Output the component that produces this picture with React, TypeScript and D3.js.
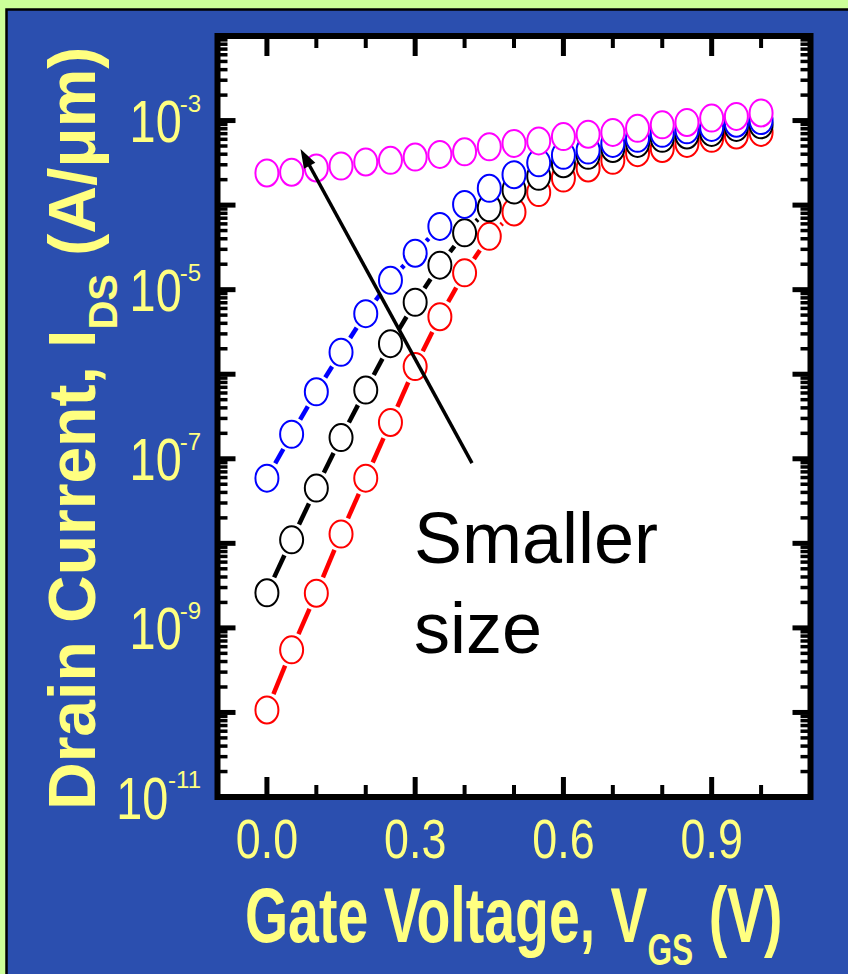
import React from "react";
import * as d3 from "d3";

// ---- data ----
const vgs = [0, 0.05, 0.1, 0.15, 0.2, 0.25, 0.3, 0.35, 0.4, 0.45, 0.5, 0.55, 0.6, 0.65, 0.7, 0.75, 0.8, 0.85, 0.9, 0.95, 1.0];

const idsRed = [1.07e-10, 5.5e-10, 2.57e-9, 1.29e-8, 5.9e-8, 2.69e-7, 1.23e-6, 4.79e-6, 1.58e-5, 4.27e-5, 8.3e-5, 1.41e-4, 2.09e-4, 2.75e-4, 3.39e-4, 4.17e-4, 4.68e-4, 5.37e-4, 6.17e-4, 6.76e-4, 7.24e-4];
const idsBlack = [2.6e-9, 1.1e-8, 4.5e-8, 1.78e-7, 6.5e-7, 2.3e-6, 7.1e-6, 1.95e-5, 4.7e-5, 9.3e-5, 1.51e-4, 2.19e-4, 3.09e-4, 3.89e-4, 4.68e-4, 5.37e-4, 6.17e-4, 6.76e-4, 7.24e-4, 8.3e-4, 8.9e-4];
const idsBlue = [5.9e-8, 1.95e-7, 6.2e-7, 1.82e-6, 5.2e-6, 1.29e-5, 2.7e-5, 5.6e-5, 1.02e-4, 1.58e-4, 2.29e-4, 3.16e-4, 3.89e-4, 4.47e-4, 5.37e-4, 6.17e-4, 7.08e-4, 7.76e-4, 8.3e-4, 9.3e-4, 1.0e-3];
const idsMagenta = [2.4e-4, 2.45e-4, 2.75e-4, 2.9e-4, 3.24e-4, 3.39e-4, 3.7e-4, 3.98e-4, 4.27e-4, 4.9e-4, 5.37e-4, 5.75e-4, 6.46e-4, 6.9e-4, 7.24e-4, 8.1e-4, 8.9e-4, 9.5e-4, 1.07e-3, 1.12e-3, 1.23e-3];

const seriesNames = ["red", "black", "blue", "magenta"];
const seriesColors = ["#ff0000", "#000000", "#0000ff", "#ff00ff"];
const seriesValues = [idsRed, idsBlack, idsBlue, idsMagenta];
const seriesHasLine = [true, true, true, false];

const xTickMajor = [0, 0.3, 0.6, 0.9];
const xTickMinor = [0.1, 0.2, 0.4, 0.5, 0.7, 0.8, 1.0];
const xTickLabels = ["0.0", "0.3", "0.6", "0.9"];
const yLabelExps = [-3, -5, -7, -9, -11];
const yDecades = [-11, -10, -9, -8, -7, -6, -5, -4, -3, -2];

const arrowTail = { v: 0.415, i: 8.9e-8 };
const arrowTip = { v: 0.068, i: 4.6e-4 };
const annotationLines = ["Smaller", "size"];

// ---- layout ----
const W = 848;
const H = 974;
const BLUE = "#2b4faf";
const GREEN = "#ccff99";
const YEL = "#ffff80";
const FONT = "'Liberation Sans', Arial, Helvetica, sans-serif";

const x = d3.scaleLinear().domain([-0.1, 1.1]).range([217.5, 810.5]);
const y = d3.scaleLog().domain([1e-11, 1e-2]).range([797, 36]);

const RX = 11.5;
const RY = 13.5;
const GAP = 4;

function supWidth(s: string, fs: number) {
  let w = 0;
  for (const c of s) w += c === "-" ? 0.333 : 0.556;
  return w * fs;
}

export default function App() {
  const [x0, x1] = x.range();
  const [yb, yt] = y.range();

  const segs: { x1: number; y1: number; x2: number; y2: number; color: string; key: string }[] = [];
  seriesValues.forEach((vals, si) => {
    if (!seriesHasLine[si]) return;
    for (let k = 0; k < vals.length - 1; k++) {
      const ax = x(vgs[k]), ay = y(vals[k]);
      const bx = x(vgs[k + 1]), by = y(vals[k + 1]);
      const dx = bx - ax, dy = by - ay;
      const len = Math.hypot(dx, dy);
      const ux = dx / len, uy = dy / len;
      const r = 1 / Math.sqrt((ux / RX) ** 2 + (uy / RY) ** 2);
      const g = r + GAP;
      if (len > 2 * g + 1) {
        segs.push({
          x1: ax + ux * g, y1: ay + uy * g, x2: bx - ux * g, y2: by - uy * g,
          color: seriesColors[si], key: `${seriesNames[si]}-${k}`,
        });
      }
    }
  });

  const yMinor: number[] = [];
  yDecades.slice(0, -1).forEach((e) => {
    for (let m = 2; m <= 9; m++) yMinor.push(m * Math.pow(10, e));
  });

  // arrow
  const tx = x(arrowTip.v), ty = y(arrowTip.i);
  const sx = x(arrowTail.v), sy = y(arrowTail.i);
  const alen = Math.hypot(tx - sx, ty - sy);
  const ax = (tx - sx) / alen, ay = (ty - sy) / alen;
  const headL = 19, headW = 6.5;
  const bx = tx - ax * headL, by = ty - ay * headL;
  const head = `M${tx},${ty} L${bx - ay * headW},${by + ax * headW} L${bx + ay * headW},${by - ax * headW} Z`;

  return (
    <div style={{ position: "absolute", left: 0, top: 0 }}>
      <svg width={W} height={H} style={{ display: "block" }} fontFamily={FONT}>
        <rect x={0} y={0} width={W} height={H} fill={GREEN} />
        <rect x={6.5} y={9.5} width={W} height={H} fill={BLUE} stroke="#000" strokeWidth={2.5} />

        {/* plot frame */}
        <rect x={x0} y={yt} width={x1 - x0} height={yb - yt} fill="#fff" />

        {/* x ticks */}
        {xTickMajor.map((v) => (
          <g key={`xM${v}`}>
            <line x1={x(v)} x2={x(v)} y1={yb} y2={yb - 20} stroke="#000" strokeWidth={5} />
            <line x1={x(v)} x2={x(v)} y1={yt} y2={yt + 20} stroke="#000" strokeWidth={5} />
          </g>
        ))}
        {xTickMinor.map((v) => (
          <g key={`xm${v}`}>
            <line x1={x(v)} x2={x(v)} y1={yb} y2={yb - 12} stroke="#000" strokeWidth={4} />
            <line x1={x(v)} x2={x(v)} y1={yt} y2={yt + 12} stroke="#000" strokeWidth={4} />
          </g>
        ))}
        {/* y ticks */}
        {yDecades.map((e) => (
          <g key={`yM${e}`}>
            <line x1={x0} x2={x0 + 18} y1={y(Math.pow(10, e))} y2={y(Math.pow(10, e))} stroke="#000" strokeWidth={5} />
            <line x1={x1} x2={x1 - 18} y1={y(Math.pow(10, e))} y2={y(Math.pow(10, e))} stroke="#000" strokeWidth={5} />
          </g>
        ))}
        {yMinor.map((v, i) => (
          <g key={`ym${i}`}>
            <line x1={x0} x2={x0 + 10} y1={y(v)} y2={y(v)} stroke="#000" strokeWidth={3.5} />
            <line x1={x1} x2={x1 - 10} y1={y(v)} y2={y(v)} stroke="#000" strokeWidth={3.5} />
          </g>
        ))}

        {/* series lines */}
        {segs.map((s) => (
          <line key={s.key} x1={s.x1} y1={s.y1} x2={s.x2} y2={s.y2} stroke={s.color} strokeWidth={4.5} />
        ))}
        {/* markers */}
        {seriesValues.map((vals, si) =>
          vals.map((v, k) => (
            <ellipse
              key={`${seriesNames[si]}-p${k}`}
              cx={x(vgs[k])}
              cy={y(v)}
              rx={RX}
              ry={RY}
              fill="#fff"
              stroke={seriesColors[si]}
              strokeWidth={2}
            />
          ))
        )}

        {/* frame border */}
        <rect x={x0} y={yt} width={x1 - x0} height={yb - yt} fill="none" stroke="#000" strokeWidth={6} />

        {/* arrow */}
        <line x1={sx} y1={sy} x2={bx + ax * 2} y2={by + ay * 2} stroke="#000" strokeWidth={3.5} />
        <path d={head} fill="#000" />

        {/* annotation */}
        {annotationLines.map((t, i) => (
          <text key={t} x={414} y={563 + i * 90} fontSize={72} fill="#000">
            {t}
          </text>
        ))}

        {/* y tick labels */}
        {yLabelExps.map((e) => {
          const yy = y(Math.pow(10, e));
          const sup = `${e}`;
          const sw = supWidth(sup, 24);
          return (
            <g key={`yl${e}`}>
              <text x={201} y={yy - 9} fontSize={24} fill={YEL} textAnchor="end">
                {sup}
              </text>
              <text
                transform={`translate(${201 - sw + 2},${yy + 21.5}) scale(0.78,1)`}
                fontSize={60}
                fill={YEL}
                textAnchor="end"
              >
                10
              </text>
            </g>
          );
        })}

        {/* x tick labels */}
        {xTickMajor.map((v, i) => (
          <text
            key={`xl${v}`}
            transform={`translate(${x(v)},858) scale(0.8,1)`}
            fontSize={56}
            fill={YEL}
            textAnchor="middle"
          >
            {xTickLabels[i]}
          </text>
        ))}

        {/* axis titles */}
        <text transform="translate(245,942) scale(0.72,1)" fontSize={77} fontWeight="bold" fill={YEL}>
          Gate Voltage, V
          <tspan fontSize={44} dy={23}>GS</tspan>
          <tspan dy={-23}> (V)</tspan>
        </text>
        <text transform="translate(95,810) rotate(-90)" fontSize={66} fontWeight="bold" fill={YEL}>
          Drain Current, I
          <tspan fontSize={40} dy={22}>DS</tspan>
          <tspan dy={-22}> (A/μm)</tspan>
        </text>
      </svg>
    </div>
  );
}
